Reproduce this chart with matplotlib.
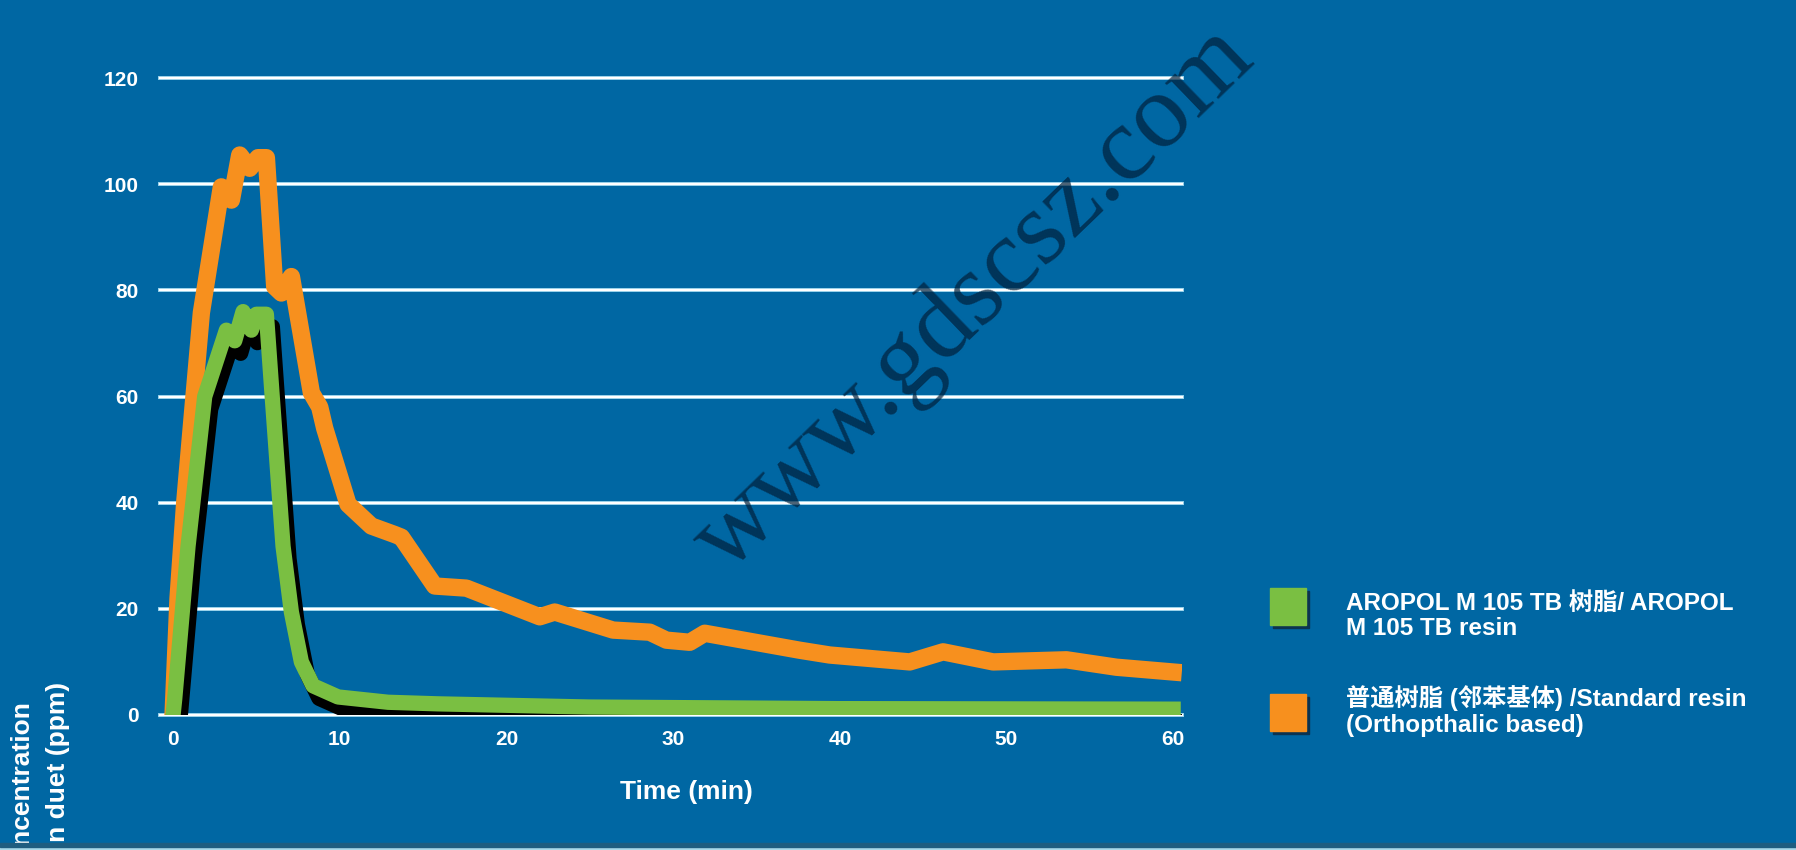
import matplotlib
matplotlib.use('Agg')
import matplotlib.pyplot as plt
import matplotlib.patheffects as pe
from matplotlib.patches import Rectangle

plt.rcParams['font.family'] = ['Liberation Sans', 'Noto Sans CJK SC']
plt.rcParams['font.weight'] = 'bold'

BG = '#0067a3'
GREEN = '#7abf42'
ORANGE = '#f7901e'
W, H = 1796, 850

# Styrene emission readings (ppm) over time (min)
time_std = [0, 0.3, 0.7, 1.2, 1.7, 2.9, 3.5, 4.0, 4.6, 5.1, 5.6, 6.1, 6.5, 7.1,
            8.3, 8.8, 9.1, 10.5, 11.9, 13.3, 13.7, 15.7, 17.6, 22.0, 22.9, 26.4,
            28.6, 29.6, 31.0, 31.9, 37.6, 39.4, 44.2, 46.2, 49.2, 53.6, 56.6, 60.0]
conc_std = [0, 22, 40, 58, 75.8, 99.5, 97, 105.5, 103, 105, 105, 80.7, 79.5, 82.6,
            60.7, 58, 54, 39.7, 35.6, 34, 33.5, 24.3, 23.9, 18.5, 19.4, 16,
            15.6, 14.1, 13.7, 15.4, 12.2, 11.3, 10, 11.9, 10, 10.4, 9, 8.1]

time_aropol = [0, 0.1, 0.9, 1.9, 3.2, 3.7, 4.2, 4.7, 5.0, 5.6, 5.95, 6.6, 7.1,
               7.7, 8.4, 9.9, 12.9, 15.9, 25, 40, 60]
conc_aropol = [0, 3, 31.8, 60, 72.5, 70.5, 76, 72.5, 75.5, 75.5, 60, 31.8, 19.4,
               10, 5.5, 3.4, 2.4, 2.1, 1.5, 1.2, 1.1]

y_ticks = [0, 20, 40, 60, 80, 100, 120]
x_ticks = [0, 10, 20, 30, 40, 50, 60]

label_aropol = 'AROPOL M 105 TB 树脂/ AROPOL\nM 105 TB resin'
label_std = '普通树脂 (邻苯基体) /Standard resin\n(Orthopthalic based)'


def fx(px):
    return px / W


def fy(py):
    return 1 - py / H


fig = plt.figure(figsize=(W / 100, H / 100), dpi=100, facecolor=BG)

ax = fig.add_axes([fx(159.7), fy(715), (1182.3 - 159.7) / W, (715 - 51.5) / H])
ax.set_facecolor('none')
ax.set_xlim(-0.8, 60.55)
ax.set_ylim(0, 125)
for s in ax.spines.values():
    s.set_visible(False)

for yv in y_ticks:
    ax.axhline(yv, color='#9fd6ee', lw=2.8, zorder=1, clip_on=False)
    ax.axhline(yv, color='white', lw=1.5, zorder=1.1, clip_on=False)

ax.plot(time_std, conc_std, color=ORANGE, lw=12.5, zorder=3,
        solid_joinstyle='round', solid_capstyle='projecting')
ax.plot(time_aropol, conc_aropol, color=GREEN, lw=11, zorder=4,
        solid_joinstyle='round', solid_capstyle='projecting',
        path_effects=[pe.SimpleLineShadow(offset=(4.3, -9), shadow_color='black', alpha=1.0),
                      pe.Normal()])

ax.set_yticks(y_ticks)
ax.set_xticks(x_ticks)
ax.tick_params(axis='y', length=0, pad=15, labelsize=15, colors='white')
ax.tick_params(axis='x', length=0, pad=11, labelsize=15, colors='white')
for lab in ax.get_xticklabels() + ax.get_yticklabels():
    lab.set_fontweight('bold')

fig.text(fx(686), fy(799), 'Time (min)', ha='center', va='baseline',
         fontsize=19, color='white', fontweight='bold')

# y label runs off the bottom edge of the slide
fig.text(fx(22), fy(700), 'Concentration', rotation=90, ha='center', va='top',
         fontsize=19, color='white', fontweight='bold')
fig.text(fx(58), fy(682), 'on duet (ppm)', rotation=90, ha='center', va='top',
         fontsize=19, color='white', fontweight='bold')

# legend swatches with drop shadow
for top, col in [(588, GREEN), (694, ORANGE)]:
    fig.patches.append(Rectangle((fx(1273), fy(top + 40)), 36 / W, 37 / H,
                                 transform=fig.transFigure, color='#0b3350', zorder=2))
    fig.patches.append(Rectangle((fx(1270), fy(top + 37)), 36 / W, 37 / H,
                                 transform=fig.transFigure, color=col, zorder=3))

fig.text(fx(1346), fy(616), label_aropol, ha='left', va='center', fontsize=17.5,
         color='white', fontweight='bold', linespacing=1.15)
fig.text(fx(1346), fy(711), label_std, ha='left', va='center', fontsize=17.5,
         color='white', fontweight='bold', linespacing=1.15)

fig.text(fx(975), fy(300), 'www.gdscsz.com', rotation=44, rotation_mode='anchor',
         ha='center', va='center', fontsize=76, family='Liberation Serif',
         fontweight='normal', color='#001f3a', alpha=0.7, zorder=10)

# thin edge strip along the bottom
fig.patches.append(Rectangle((0, 0), 1, 3 / H, transform=fig.transFigure,
                             color='#a8d8e8', zorder=5))
fig.patches.append(Rectangle((0, 3 / H), 1, 4 / H, transform=fig.transFigure,
                             color='#1f5d80', zorder=5))

fig.savefig('out.png', dpi=100, facecolor=BG)
